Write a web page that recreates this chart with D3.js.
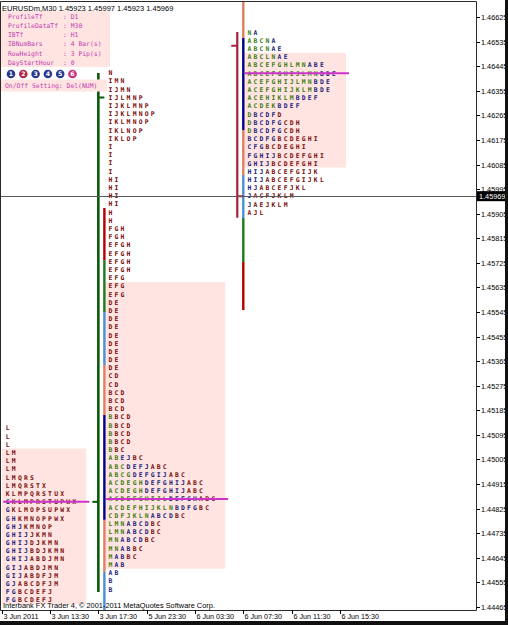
<!DOCTYPE html>
<html><head><meta charset="utf-8">
<script src="https://cdn.jsdelivr.net/npm/d3@7"></script>
<style>
html,body{margin:0;padding:0;background:#fff;overflow:hidden;}
svg{display:block;}
</style></head>
<body>
<svg id="c" width="508" height="625"></svg>
<script>
// ---------------- DATA ----------------
const titleText = "EURUSDm,M30  1.45923 1.45997 1.45923 1.45969";
const copyrightText = "Interbank FX Trader 4, \u00A9 2001-2011 MetaQuotes Software Corp.";
const priceTicks = [1.46625,1.46535,1.46445,1.46355,1.46265,1.46175,1.46085,1.45995,1.45905,1.45815,1.45725,1.45635,1.45545,1.45455,1.45365,1.45275,1.45185,1.45095,1.45005,1.44915,1.44825,1.44735,1.44645,1.44555,1.44465];
const lastPrice = 1.45969;
const timeLabels = ["3 Jun 2011","3 Jun 13:30","3 Jun 17:30","5 Jun 23:30","6 Jun 03:30","6 Jun 07:30","6 Jun 11:30","6 Jun 15:30"];
const timeTickBars = [0,8,16,24,32,40,48,56];
const rowStep = 0.0003;

const infoLabels = ["ProfileTf","ProfileDataTf","IBTf","IBNumBars","RowHeight","DayStartHour"];
const infoValues = ["D1","M30","H1","4 Bar(s)","3 Pip(s)","0"];
const buttonNumbers = ["1","2","3","4","5","6"];
const buttonColors = ["#24388c","#b02848","#24388c","#24388c","#24388c","#c8307c"];
const onOffText = "On/Off Setting: Del(NUM)";

// left profile
const leftTop = 1.4512, leftStartBar = 1, leftVA = [3, 21], leftPOC = 9;
const leftRows = ["L","L","L","LM","LM","LM","LMQRS","LMQRSTX","KLMPQRSTUX","GKLMPRSTUPWX","GKLMOPSUPWX","GHKMNOPPWX","GHJKMNOP","GHIJJKMN","GHIJDJKMN","GHIJBDJKMN","GHIJABDJMN","GIJABDJMN","GIJABDFJM","GJABCDFJM","FGBCDEFJ","FGBCDEFJ"];
const leftColors = ["r","r","r","rr","rr","rr","rrrrr","rrrrrrr","rrrrrrrrrr","nrrrrrrrrrrr","nrrrrrrrrrr","nnrrrrrrrr","nnnrrrrr","nnnnrrrr","nnnnrrrrr","nnnnrrrrrr","nnnnrrrrrr","nnnrrrrrr","nnnrrrrrr","nnrrrrrrr","nnrrrrrr","nnrrrrrr"];

// middle profile
const midTop = 1.4642, midStartBar = 18, midVA = [26, 60], midPOC = 52;
const midRows = ["N","IMN","IJMN","IJLMNP","IJKLMNP","IJKLMNOP","IKLMNOP","IKLNOP","IKLOP","I","I","I","I","HI","HI","HI","HI","H","H","FGH","FGH","EFGH","EFGH","EFGH","EFGH","EFG","EFG","EFG","DE","DE","DE","DE","DE","DE","DE","DE","DE","CD","CD","BCD","BCD","BCD","BBCD","BBCD","BBCD","BBCD","BBC","ABEJBC","ABCDEFJABC","ABCGDEFGIJABC","ACDEGHDEFGHIJABC","ACDEGHDEFGHIJABC","ACDEFGHIJLDEFGHABC","ACDEFHIJKLNBDFGBC","CDFJKLNABCDBC","LMNABCDBC","LMNABCDBC","MNABCDBC","MNABBC","MABBC","MAB","AB","B","B"];
const midColors = ["r","rrr","rrrr","rrrrrr","rrrrrrr","rrrrrrrr","rrrrrrr","rrrrrr","rrrrr","r","r","r","r","rr","rr","rr","rr","r","r","rrr","rrr","rrrr","rrrr","rrrr","rrrr","rrr","rrr","rrr","rr","rr","rr","rr","rr","rr","rr","rr","rr","rr","rr","rrr","rrr","rrr","grrr","grrr","grrr","grrr","grr","ggnnrr","gggnnnnrrr","ggggnnnnnnrrr","ggggggnnnnnnnrrr","ggggggnnnnnnnrrr","ggggggggggnnnnnrrr","gggggggggggnnnnrr","gggggggnnnnrr","gggnnnnrr","gggnnnnrr","ggnnnnrr","ggnnrr","gnnrr","gnn","nn","n","n"];

// right profile
const rightTop = 1.46569, rightStartBar = 41, rightVA = [3, 16], rightPOC = 5;
const rightRows = ["NA","ABCNA","ABCNAE","ABCLNAE","ABCEFGHLMNABE","ABCEFGHIJLMNBDE","ACEFGHIJLMNBDE","ACEFGHIJKLMBDE","ACEHIKLMBDEF","ACDEKBDEF","DBCDFD","DBCDFGCDH","DBCDFGCDH","BCDFGBCDEGHI","CFGBCDEGHI","FGHIJBCDEFGHI","GHIJBCDEFGHI","HIJABCEFGIJK","HIJABCEFGIJKL","HJABCEFJKL","JACFJKLM","JAEJKLM","AJL"];
const rightColors = ["gn","ggggn","ggggnn","gggggnn","ggggggggggnnn","ggggggggggggnnn","gggggggggggnnn","gggggggggggnnn","ggggggggnnnn","gggggnnnn","gnnnnr","gnnnnnrrr","gnnnnnrrr","nnnnnrrrrrrr","nnnrrrrrrr","nnnnnrrrrrrrr","nnnnrrrrrrrr","nnnrrrrrrrrr","nnnrrrrrrrrrr","nnrrrrrrrr","nrrrrrrr","nrrrrrr","rrr"];

// daily OHLC bars  [bar, open, high, low, close]
const midDay = [16, 1.4485, 1.4642, 1.4452, 1.4633];
const rightDay = [39, 1.4652, 1.4657, 1.4589, 1.45969];

// IB / extension bands [top, bottom, colorKey]
const midBands = [[1.45926,1.45735,"red"],[1.45735,1.45545,"green"],[1.45545,1.45351,"blue"],[1.45351,1.45168,"salmon"],[1.45168,1.44784,"navy"],[1.44784,1.44593,"salmon"],[1.44593,1.4440,"blue"]];
const rightBands = [[1.4672,1.46548,"salmon"],[1.46548,1.46211,"navy"],[1.46211,1.46047,"salmon"],[1.46047,1.45889,"blue"],[1.45889,1.45728,"green"],[1.45728,1.45552,"red"]];

// ---------------- DRAW ----------------
const W = 508, H = 625;
const plotL = 0, plotR = 476, plotT = 1.5, plotB = 610;
const svg = d3.select("#c");
const x = d3.scaleLinear().domain([0, 78]).range([1.7, 1.7 + 78 * 6.04]);
const y = d3.scaleLinear().domain([1.44465, 1.46625]).range([607, 17]);

const letterCol = {g: "#3a7d0c", n: "#1c1c78", r: "#780a0a"};
const bandCol = {red: "#b40000", green: "#1e7a1e", blue: "#4a8fd8", salmon: "#e27d64", navy: "#00008c"};

svg.append("rect").attr("width", W).attr("height", H).attr("fill", "#fff");

const defs = svg.append("defs");
defs.append("clipPath").attr("id", "plotclip").append("rect")
  .attr("x", plotL).attr("y", plotT).attr("width", plotR - plotL).attr("height", plotB - plotT);

const plot = svg.append("g").attr("clip-path", "url(#plotclip)");

function drawProfile(rows, colors, top, startBar, va, poc) {
  const g = plot.append("g");
  const vaRows = rows.slice(va[0], va[1] + 1);
  const maxLen = d3.max(vaRows, s => s.length);
  const bx0 = x(startBar - 1) + 0.5;
  const bx1 = x(startBar + maxLen + 1);
  const yTop = y(top - va[0] * rowStep) - 4.1;
  const yBot = y(top - va[1] * rowStep) + 4.1;
  g.append("rect").attr("x", bx0).attr("y", yTop).attr("width", bx1 - bx0).attr("height", yBot - yTop)
    .attr("fill", "#ffe4e1");
  rows.forEach((s, r) => {
    const yy = y(top - r * rowStep);
    s.split("").forEach((ch, i) => {
      g.append("text").attr("x", x(startBar + i)).attr("y", yy + 2.3)
        .attr("text-anchor", "middle")
        .attr("font-family", "DejaVu Sans Mono").attr("font-weight", "bold").attr("font-size", 6.4)
        .attr("fill", letterCol[colors[r][i]] || letterCol.r).text(ch);
    });
  });
  const py = y(top - poc * rowStep);
  g.append("line").attr("x1", bx0 + 1).attr("x2", bx1 + 3).attr("y1", py).attr("y2", py)
    .attr("stroke", "#cc33cc").attr("stroke-width", 2);
}

function drawBands(bands, bar) {
  bands.forEach(b => {
    plot.append("line").attr("x1", x(bar)).attr("x2", x(bar))
      .attr("y1", y(b[0])).attr("y2", y(b[1]))
      .attr("stroke", bandCol[b[2]]).attr("stroke-width", 2.4);
  });
}

function drawDay(d, color, w) {
  const bx = x(d[0]);
  plot.append("line").attr("x1", bx).attr("x2", bx).attr("y1", y(d[2])).attr("y2", y(d[3]))
    .attr("stroke", color).attr("stroke-width", w);
  plot.append("line").attr("x1", bx - 6).attr("x2", bx).attr("y1", y(d[1])).attr("y2", y(d[1]))
    .attr("stroke", color).attr("stroke-width", 2);
  plot.append("line").attr("x1", bx).attr("x2", bx + 6).attr("y1", y(d[4])).attr("y2", y(d[4]))
    .attr("stroke", color).attr("stroke-width", 2);
}

drawProfile(leftRows, leftColors, leftTop, leftStartBar, leftVA, leftPOC);
drawProfile(midRows, midColors, midTop, midStartBar, midVA, midPOC);
drawProfile(rightRows, rightColors, rightTop, rightStartBar, rightVA, rightPOC);
drawBands(midBands, midStartBar - 1);
drawBands(rightBands, rightStartBar - 1);
drawDay(midDay, "#0a5a0a", 2.6);
drawDay(rightDay, "#a8203c", 2.2);

// current price line
plot.append("line").attr("x1", plotL).attr("x2", plotR).attr("y1", Math.round(y(lastPrice)) + 0.5).attr("y2", Math.round(y(lastPrice)) + 0.5)
  .attr("stroke", "#5a5a5a").attr("stroke-width", 1);

// info panel
const info = svg.append("g");
info.append("rect").attr("x", 0).attr("y", 11).attr("width", 110).attr("height", 56).attr("fill", "#ffe4e1");
const infoColor = "#c23cb4";
infoLabels.forEach((lab, i) => {
  const yy = 16.5 + i * 9.2 + 2.3;
  info.append("text").attr("x", 8).attr("y", yy).attr("font-family", "DejaVu Sans Mono").attr("font-size", 6.4)
    .attr("fill", infoColor).text(lab);
  info.append("text").attr("x", 63).attr("y", yy).attr("font-family", "DejaVu Sans Mono").attr("font-size", 6.4)
    .attr("fill", infoColor).text(": " + infoValues[i]);
});
buttonNumbers.forEach((n, i) => {
  const cx = 11 + i * 12.3;
  info.append("circle").attr("cx", cx).attr("cy", 74).attr("r", 4.3).attr("fill", buttonColors[i]);
  info.append("text").attr("x", cx).attr("y", 76.3).attr("text-anchor", "middle").attr("font-family", "DejaVu Sans")
    .attr("font-weight", "bold").attr("font-size", 6.2).attr("fill", "#fff").text(n);
});
info.append("rect").attr("x", 0).attr("y", 79.5).attr("width", 107).attr("height", 12).attr("fill", "#ffe4e1");
info.append("text").attr("x", 5).attr("y", 87.7).attr("font-family", "DejaVu Sans Mono").attr("font-size", 6.4)
  .attr("fill", infoColor).text(onOffText);

// title
svg.append("text").attr("x", 2).attr("y", 10.5).attr("font-family", "Liberation Sans").attr("font-size", 7.5)
  .attr("fill", "#000").text(titleText);

// copyright
svg.append("text").attr("x", 3).attr("y", 607.8).attr("font-family", "Liberation Sans").attr("font-size", 7.4)
  .attr("fill", "#000").text(copyrightText);

// frame
svg.append("path").attr("d", `M${plotL + 0.5},${plotT} H${plotR + 0.5} V${plotB + 0.5} H${plotL + 0.5} Z`)
  .attr("fill", "none").attr("stroke", "#2a2a2a").attr("stroke-width", 1);

// right axis
const ax = svg.append("g");
priceTicks.forEach(p => {
  const yy = Math.round(y(p)) + 0.5;
  ax.append("line").attr("x1", plotR + 1).attr("x2", plotR + 4).attr("y1", yy).attr("y2", yy).attr("stroke", "#000");
  ax.append("text").attr("x", plotR + 5).attr("y", yy + 2.6).attr("font-family", "Liberation Sans").attr("font-size", 7.3)
    .attr("fill", "#000").text(d3.format(".5f")(p));
});
const ly = y(lastPrice);
ax.append("rect").attr("x", plotR + 1).attr("y", ly - 5).attr("width", 28).attr("height", 10).attr("fill", "#000");
ax.append("text").attr("x", plotR + 3).attr("y", ly + 2.6).attr("font-family", "Liberation Sans").attr("font-size", 7.3)
  .attr("fill", "#fff").text(d3.format(".5f")(lastPrice));

// time axis
timeTickBars.forEach((b, i) => {
  const xx = Math.round(x(b)) + 0.5;
  ax.append("line").attr("x1", xx).attr("x2", xx).attr("y1", plotB).attr("y2", plotB + 4).attr("stroke", "#000");
  ax.append("text").attr("x", xx + 1).attr("y", 619).attr("font-family", "Liberation Sans").attr("font-size", 7.2)
    .attr("fill", "#000").text(timeLabels[i]);
});

// window bands
svg.append("rect").attr("x", 0).attr("y", 621).attr("width", W).attr("height", 4).attr("fill", "#111");
svg.append("rect").attr("x", 505).attr("y", 0).attr("width", 3).attr("height", H).attr("fill", "#111");
</script>
</body></html>
